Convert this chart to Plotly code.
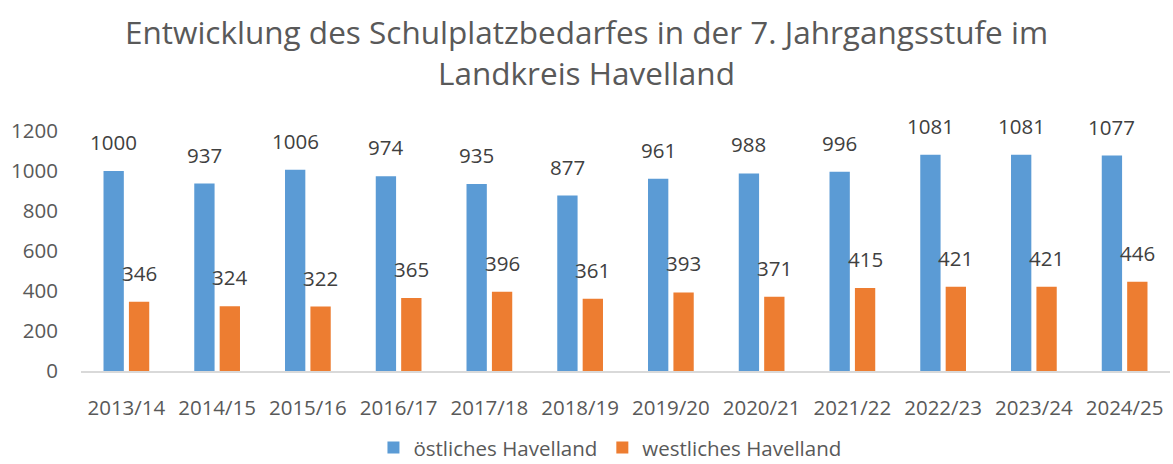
import plotly.graph_objects as go

years = ["2013/14", "2014/15", "2015/16", "2016/17", "2017/18", "2018/19",
         "2019/20", "2020/21", "2021/22", "2022/23", "2023/24", "2024/25"]
ost = [1000, 937, 1006, 974, 935, 877, 961, 988, 996, 1081, 1081, 1077]
west = [346, 324, 322, 365, 396, 361, 393, 371, 415, 421, 421, 446]

series_names = ["östliches Havelland", "westliches Havelland"]
colors = ["#5B9BD5", "#ED7D31"]
font_family = "Open Sans"
fs = 20.5

fig = go.Figure()
for name, vals, col in zip(series_names, [ost, west], colors):
    fig.add_trace(go.Bar(x=years, y=vals, name=name, marker_color=col,
                         marker_line_width=0))

# value labels above each bar
slot = 25.5
for vals, shift in [(ost, -slot / 2), (west, slot / 2)]:
    for yr, v in zip(years, vals):
        fig.add_annotation(x=yr, y=v, text=str(v), showarrow=False,
                           xshift=shift, yshift=13, yanchor="bottom",
                           font=dict(family=font_family, size=fs, color="#404040"))

fig.update_layout(
    width=1173, height=464,
    paper_bgcolor="white", plot_bgcolor="white",
    margin=dict(l=81, r=3, t=131, b=93, autoexpand=False),
    title=dict(text="Entwicklung des Schulplatzbedarfes in der 7. Jahrgangsstufe im<br>Landkreis Havelland",
               x=0.5, xanchor="center", yref="container", y=0.905, yanchor="top",
               font=dict(family=font_family, size=31.5, color="#595959")),
    barmode="group", bargap=0.44, bargroupgap=0.2,
    showlegend=True,
    legend=dict(orientation="h", xref="container", x=0.52, xanchor="center",
                yref="container", y=0.035, yanchor="middle",
                font=dict(family=font_family, size=20.5, color="#595959"),
                itemwidth=30, traceorder="normal"),
    xaxis=dict(showline=True, linecolor="#D9D9D9", linewidth=1.5, ticks="",
               ticklabelstandoff=18,
               tickfont=dict(family=font_family, size=fs, color="#595959"),
               showgrid=False),
    yaxis=dict(range=[0, 1200], dtick=200, showgrid=False, zeroline=False,
               showline=False, ticks="", ticklabelstandoff=22,
               tickfont=dict(family=font_family, size=fs, color="#595959")),
)

fig.write_html("out.html")
